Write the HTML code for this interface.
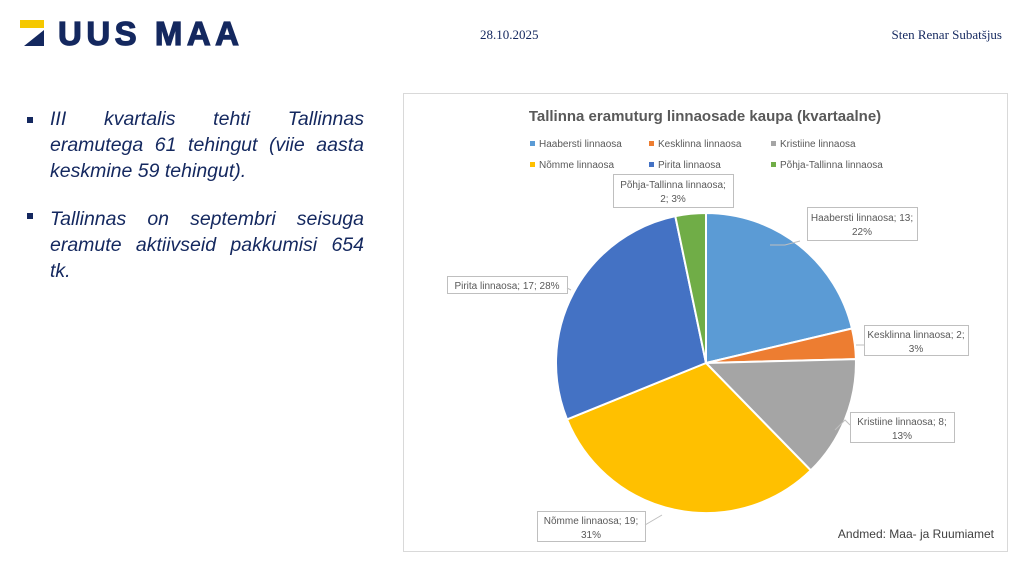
<!DOCTYPE html>
<html><head><meta charset="utf-8"><style>
body{margin:0;width:1024px;height:576px;background:#fff;position:relative;overflow:hidden;font-family:"Liberation Sans",sans-serif}
.logo{position:absolute;left:58px;top:15px;font-weight:900;font-size:33px;color:#14285f;letter-spacing:4.5px;-webkit-text-stroke:1.2px #14285f}
.date{position:absolute;left:480px;top:27px;font-family:"Liberation Serif",serif;font-size:13px;color:#14285f}
.name{position:absolute;right:22px;top:27px;font-family:"Liberation Serif",serif;font-size:13px;color:#14285f}
.ln{position:absolute;left:50px;width:314px;font-style:italic;font-size:19.5px;line-height:26px;color:#14285f;text-align:justify;text-align-last:justify;white-space:nowrap}
.ln.l{text-align-last:left}
.bul{position:absolute;left:27px;width:6px;height:6px;background:#14285f}
</style></head><body>
<svg style="position:absolute;left:20px;top:20px" width="26" height="26"><polygon points="0,0 24,0 24,8 0,8" fill="#f5c800"/><polygon points="4,26 24,10 24,26" fill="#14285f"/></svg>
<div class="logo">UUS MAA</div>
<div class="date">28.10.2025</div>
<div class="name">Sten Renar Subatšjus</div>
<div class="bul" style="top:117px"></div>
<div class="ln" style="top:106px">III kvartalis tehti Tallinnas</div>
<div class="ln" style="top:132px">eramutega 61 tehingut (viie aasta</div>
<div class="ln l" style="top:158px">keskmine 59 tehingut).</div>
<div class="bul" style="top:213px"></div>
<div class="ln" style="top:206px">Tallinnas on septembri seisuga</div>
<div class="ln" style="top:232px">eramute aktiivseid pakkumisi 654</div>
<div class="ln l" style="top:258px">tk.</div>
<svg style="position:absolute;left:0;top:0" width="1024" height="576" font-family="Liberation Sans, sans-serif">
<rect x="403.5" y="93.5" width="604" height="458" fill="#fff" stroke="#d9d9d9"/>
<text x="705" y="121" text-anchor="middle" font-size="15" font-weight="bold" fill="#595959">Tallinna eramuturg linnaosade kaupa (kvartaalne)</text>
<g font-size="10" fill="#595959">
<rect x="530" y="141" width="5" height="5" fill="#5B9BD5"/><text x="539" y="147">Haabersti linnaosa</text>
<rect x="649" y="141" width="5" height="5" fill="#ED7D31"/><text x="658" y="147">Kesklinna linnaosa</text>
<rect x="771" y="141" width="5" height="5" fill="#A5A5A5"/><text x="780" y="147">Kristiine linnaosa</text>
<rect x="530" y="162" width="5" height="5" fill="#FFC000"/><text x="539" y="168">Nõmme linnaosa</text>
<rect x="649" y="162" width="5" height="5" fill="#4472C4"/><text x="658" y="168">Pirita linnaosa</text>
<rect x="771" y="162" width="5" height="5" fill="#70AD47"/><text x="780" y="168">Põhja-Tallinna linnaosa</text>
</g>
<g stroke="#fff" stroke-width="2">
<path d="M706,363 L706,213 A150,150 0 0 1 852,328.5 Z" fill="#5B9BD5"/>
<path d="M706,363 L852,328.5 A150,150 0 0 1 855.9,359.1 Z" fill="#ED7D31"/>
<path d="M706,363 L855.9,359.1 A150,150 0 0 1 810.8,470.4 Z" fill="#A5A5A5"/>
<path d="M706,363 L810.8,470.4 A150,150 0 0 1 567,419.4 Z" fill="#FFC000"/>
<path d="M706,363 L567,419.4 A150,150 0 0 1 675.3,216.2 Z" fill="#4472C4"/>
<path d="M706,363 L675.3,216.2 A150,150 0 0 1 706,213 Z" fill="#70AD47"/>
</g>
<g stroke="#bfbfbf" fill="#fff">
<rect x="613.5" y="174.5" width="120" height="33"/>
<rect x="807.5" y="207.5" width="110" height="33"/>
<rect x="864.5" y="325.5" width="104" height="30"/>
<rect x="850.5" y="412.5" width="104" height="30"/>
<rect x="447.5" y="276.5" width="120" height="17"/>
<rect x="537.5" y="511.5" width="108" height="30"/>
<polyline fill="none" points="800,241 785,245 770,245"/>
<polyline fill="none" points="864,345 860,345 856,345"/>
<polyline fill="none" points="850,425 845,420 835,430"/>
<polyline fill="none" points="567,288 571,290"/>
<polyline fill="none" points="645,525 662,515"/>
</g>
<g font-size="10" fill="#595959" text-anchor="middle">
<text x="673" y="188">Põhja-Tallinna linnaosa;</text><text x="673" y="202">2; 3%</text>
<text x="862" y="221">Haabersti linnaosa; 13;</text><text x="862" y="235">22%</text>
<text x="916" y="338">Kesklinna linnaosa; 2;</text><text x="916" y="352">3%</text>
<text x="902" y="425">Kristiine linnaosa; 8;</text><text x="902" y="439">13%</text>
<text x="507" y="289">Pirita linnaosa; 17; 28%</text>
<text x="591" y="524">Nõmme linnaosa; 19;</text><text x="591" y="538">31%</text>
</g>
<text x="994" y="538" text-anchor="end" font-size="12" fill="#404040">Andmed: Maa- ja Ruumiamet</text>
</svg>
</body></html>
